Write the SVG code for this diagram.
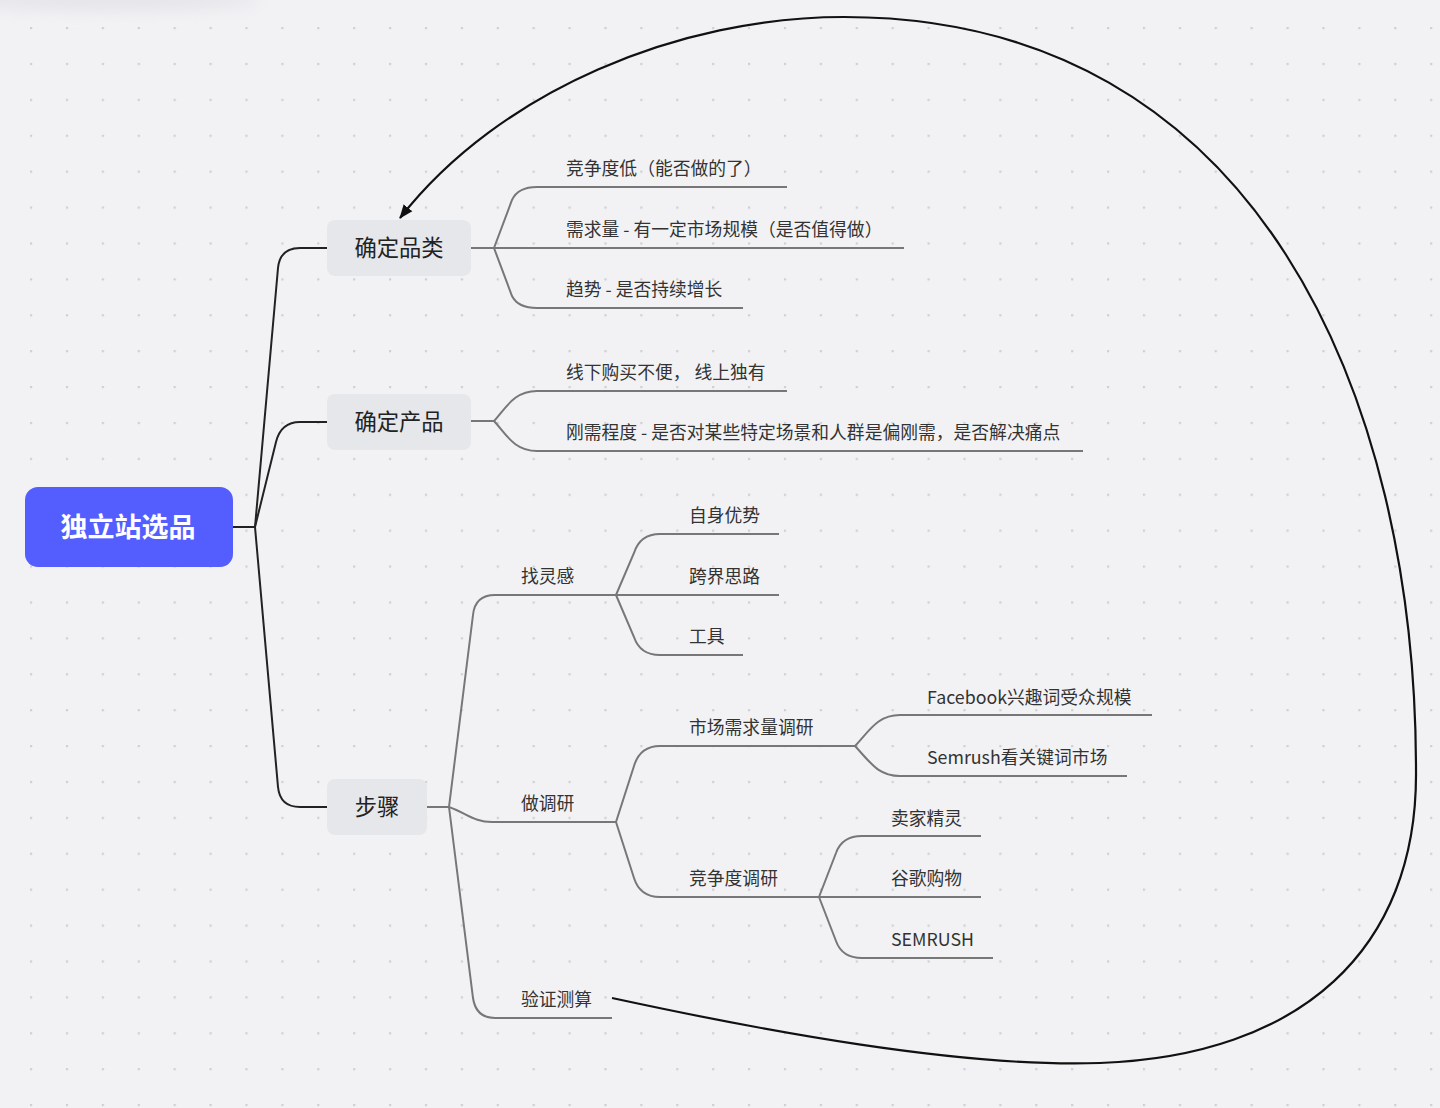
<svg xmlns="http://www.w3.org/2000/svg" width="1440" height="1108" viewBox="0 0 1440 1108">
<defs>
<pattern id="dots" patternUnits="userSpaceOnUse" x="30" y="27" width="35.9" height="35.9">
<rect x="0" y="0" width="2.2" height="2.2" fill="#cfcfd4"/>
</pattern>
<filter id="blur" x="-50%" y="-200%" width="200%" height="500%"><feGaussianBlur stdDeviation="8"/></filter>
<marker id="arrow" markerUnits="userSpaceOnUse" markerWidth="14" markerHeight="14" refX="13" refY="7" orient="auto">
<path d="M0,1.5 L14,7 L0,12.5 z" fill="#111"/>
</marker>
<style>
.node rect{fill:#e6e7eb;}
.node text{font-family:"Noto Sans CJK SC","Noto Sans",sans-serif;font-size:22.3px;fill:#222;text-anchor:middle;}
.root rect{fill:#545eff;}
.root text{font-family:"Noto Sans CJK SC","Noto Sans",sans-serif;font-size:27px;font-weight:bold;fill:#fff;text-anchor:middle;}
.lbl{font-family:"Noto Sans CJK SC","Noto Sans",sans-serif;font-size:17.8px;fill:#333;}
.c1{fill:none;stroke:#222;stroke-width:2;}
.c2{fill:none;stroke:#777;stroke-width:2;}
.rel{fill:none;stroke:#111;stroke-width:2.2;}
</style>
</defs>
<rect width="1440" height="1108" fill="#f2f2f5"/>
<ellipse cx="110" cy="0" rx="150" ry="10" fill="#e4e4e8" filter="url(#blur)"/>
<rect width="1440" height="1108" fill="url(#dots)"/>

<g id="connectors">
<path class="c1" d="M233,527 L255,527"/>
<path class="c1" d="M255,527 L278,268 Q280,248 300,248 L327,248"/>
<path class="c1" d="M255,527 L276,442 Q281,422 300,422 L327,422"/>
<path class="c1" d="M255,527 L278,787 Q280,807 300,807 L327,807"/>

<path class="c2" d="M471,248 L494,248"/>
<path class="c2" d="M494,248 L512,200 Q518,187 537,187 L787,187"/>
<path class="c2" d="M494,248 L904,248"/>
<path class="c2" d="M494,248 L512,296 Q518,308 537,308 L743,308"/>

<path class="c2" d="M471,421 L494,421"/>
<path class="c2" d="M494,421 C506,408 514,391 537,391 L787,391"/>
<path class="c2" d="M494,421 C506,434 514,451 537,451 L1083,451"/>

<path class="c2" d="M427,807 L449,807"/>
<path class="c2" d="M449,807 L473,615 Q475,595 495,595 L616,595"/>
<path class="c2" d="M449,807 C468,814 474,822 492,822 L616,822"/>
<path class="c2" d="M449,807 L473,998 Q476,1018 495,1018 L612,1018"/>

<path class="c2" d="M616,595 L634,553 Q640,534 660,534 L779,534"/>
<path class="c2" d="M616,595 L779,595"/>
<path class="c2" d="M616,595 L634,637 Q640,655 660,655 L743,655"/>

<path class="c2" d="M616,822 L634,766 Q640,746 660,746 L855,746"/>
<path class="c2" d="M616,822 L634,878 Q640,897 660,897 L819,897"/>

<path class="c2" d="M855,746 C870,730 878,715 900,715 L1152,715"/>
<path class="c2" d="M855,746 C870,762 878,776 900,776 L1127,776"/>

<path class="c2" d="M819,897 L836,853 Q842,836 862,836 L981,836"/>
<path class="c2" d="M819,897 L981,897"/>
<path class="c2" d="M819,897 L836,941 Q842,958 862,958 L993,958"/>

<path class="rel" marker-end="url(#arrow)" d="M612,998 C760,1030 960,1068 1100,1063 C1300,1056 1418,950 1416,770 C1416,400 1260,17 844,17 C680,17 500,90 400,218"/>
</g>

<g id="root" class="root">
<rect x="25" y="487" width="208" height="80" rx="13"/>
<text x="128" y="537">独立站选品</text>
</g>
<g id="n-pinlei" class="node">
<rect x="327" y="220" width="144" height="56" rx="8"/>
<text x="399" y="256">确定品类</text>
</g>
<g id="n-chanpin" class="node">
<rect x="327" y="394" width="144" height="56" rx="8"/>
<text x="399" y="430">确定产品</text>
</g>
<g id="n-buzhou" class="node">
<rect x="327" y="779" width="100" height="56" rx="8"/>
<text x="377" y="815">步骤</text>
</g>

<g id="t-jzd"><text class="lbl" x="566" y="175">竞争度低（能否做的了）</text></g>
<g id="t-xql"><text class="lbl" x="566" y="236">需求量 - 有一定市场规模（是否值得做）</text></g>
<g id="t-qs"><text class="lbl" x="566" y="296">趋势 - 是否持续增长</text></g>
<g id="t-xx"><text class="lbl" x="566" y="379">线下购买不便， 线上独有</text></g>
<g id="t-gx"><text class="lbl" x="566" y="439">刚需程度 - 是否对某些特定场景和人群是偏刚需，是否解决痛点</text></g>
<g id="t-zlg"><text class="lbl" x="521" y="583">找灵感</text></g>
<g id="t-zsys"><text class="lbl" x="689" y="522">自身优势</text></g>
<g id="t-kjsl"><text class="lbl" x="689" y="583">跨界思路</text></g>
<g id="t-gj"><text class="lbl" x="689" y="643">工具</text></g>
<g id="t-zdy"><text class="lbl" x="521" y="810">做调研</text></g>
<g id="t-scxq"><text class="lbl" x="689" y="734">市场需求量调研</text></g>
<g id="t-fb"><text class="lbl" x="927" y="704">Facebook兴趣词受众规模</text></g>
<g id="t-sem1"><text class="lbl" x="927" y="764">Semrush看关键词市场</text></g>
<g id="t-jzdy"><text class="lbl" x="689" y="885">竞争度调研</text></g>
<g id="t-mjjl"><text class="lbl" x="891" y="825">卖家精灵</text></g>
<g id="t-ggg"><text class="lbl" x="891" y="885">谷歌购物</text></g>
<g id="t-sem2"><text class="lbl" x="891" y="946">SEMRUSH</text></g>
<g id="t-yzcs"><text class="lbl" x="521" y="1006">验证测算</text></g>
</svg>
